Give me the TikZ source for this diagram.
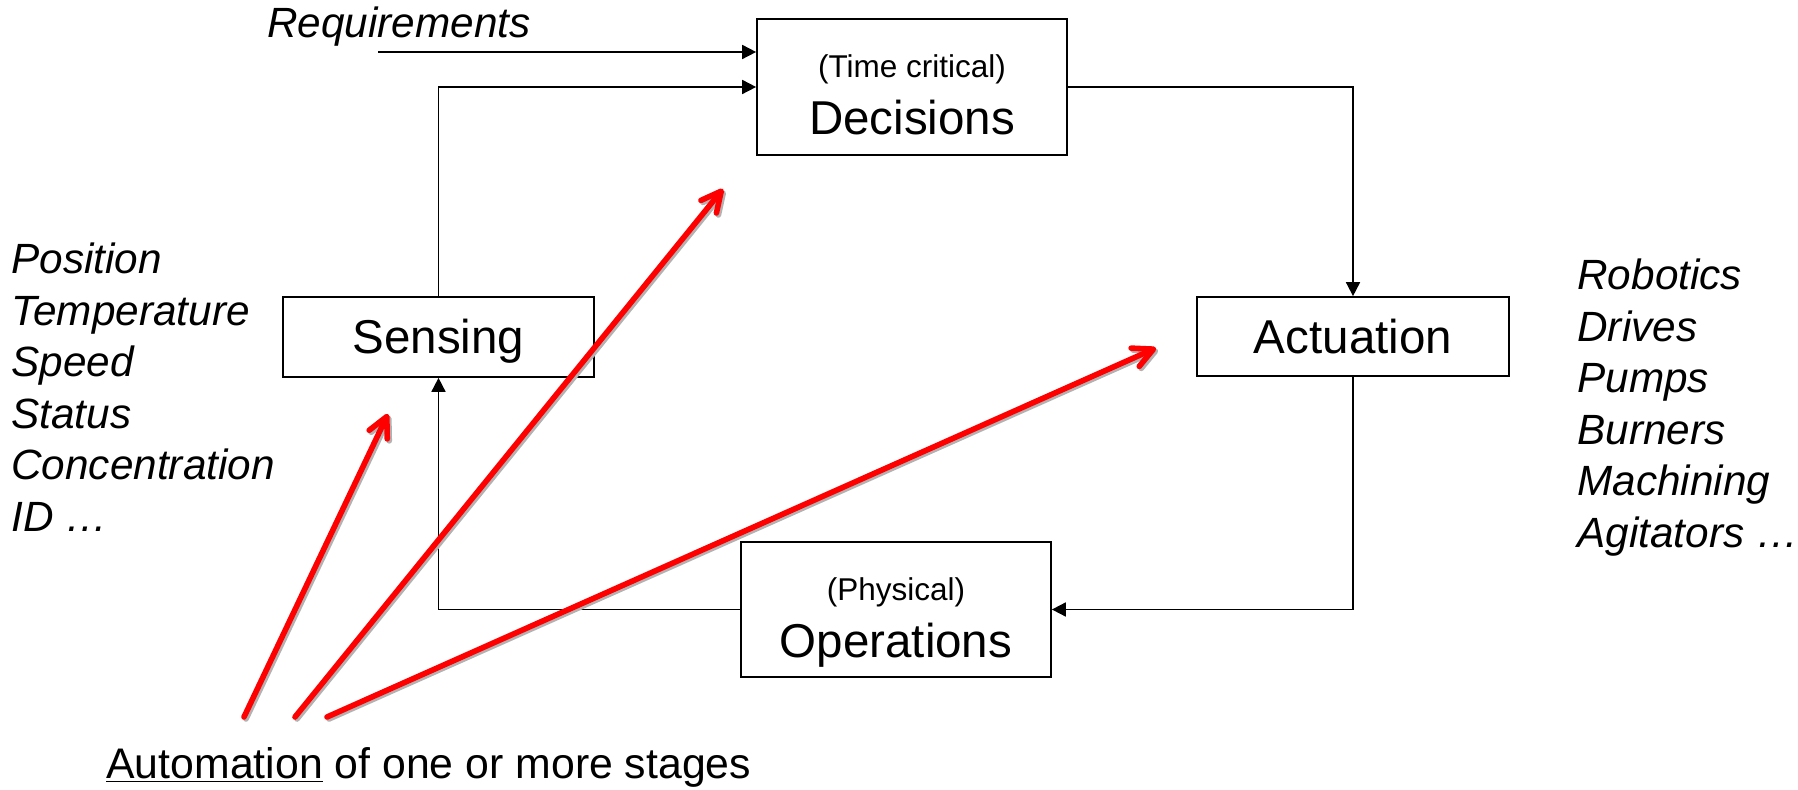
\documentclass[tikz,border=0pt]{standalone}
\usepackage{fontspec}
\setmainfont{Liberation Sans}
\usetikzlibrary{arrows.meta}
\begin{document}
\begin{tikzpicture}[x=0.5pt,y=-0.5pt,
  box/.style={draw, line width=0.85pt, inner sep=0pt},
  lbl/.style={font=\fontsize{23.75}{28}\selectfont, inner sep=0pt},
  sml/.style={font=\fontsize{15.75}{19}\selectfont, inner sep=0pt},
  itl/.style={font=\fontsize{21.15}{25}\selectfont\itshape, inner sep=0pt},
  plain/.style={font=\fontsize{21.4}{25}\selectfont, inner sep=0pt},
  conn/.style={line width=0.85pt, -{Triangle[length=7pt,width=7pt]}},
  autoarrow/.style={draw=red, line width=2.8pt, line cap=round, -{Straight Barb[length=10pt,width=10pt,round]}},
  autoshadow/.style={draw=black!30, line width=2.8pt, line cap=round, -{Straight Barb[length=10pt,width=10pt,round]}, transform canvas={xshift=1pt,yshift=-1pt}}
]
\useasboundingbox (0,0) rectangle (1798,790);

% boxes
\node[box, minimum width=155pt, minimum height=68pt] (dec) at (912,87) {};
\node[sml, anchor=base] (dect) at (912,77.5) {(Time critical)};
\node[lbl, anchor=base] (decl) at (912,134.5) {Decisions};

\node[box, lbl, minimum width=155.5pt, minimum height=40pt, text height=17pt, text depth=0pt] (sen) at (438.5,337) {Sensing};
\node[box, lbl, minimum width=156pt, minimum height=39.5pt, text height=17pt, text depth=0pt] (act) at (1353,336.5) {Actuation};

\node[box, minimum width=155pt, minimum height=67.5pt] (ops) at (896,609.5) {};
\node[sml, anchor=base] (opst) at (896,600) {(Physical)};
\node[lbl, anchor=base] (opsl) at (896,657) {Operations};

% requirements
\node[itl, anchor=base west] (req) at (267,38) {Requirements};
\coordinate (reqs) at (378,52);
\draw[conn] (reqs) -- (reqs -| dec.west);

% loop
\draw[conn] (sen.north) |- (dec.west);
\draw[conn] (dec.east) -| (act.north);
\draw[conn] (act.south) |- (ops.east);
\draw[conn] (ops.west) -| (sen.south);

% lists
\foreach \t [count=\i] in {Position,Temperature,Speed,Status,Concentration,ID …}
  \node[itl, anchor=base west] (l\i) at (11,{274+51.5*(\i-1)}) {\t};
\foreach \t [count=\i] in {Robotics,Drives,Pumps,Burners,Machining,Agitators …}
  \node[itl, anchor=base west] (r\i) at (1577,{290+51.5*(\i-1)}) {\t};

% bottom text
\node[plain, anchor=base west] (auto) at (106,778) {\underline{Automation} of one or more stages};

% red arrows
\coordinate (a1) at (244,717); \coordinate (b1) at (388,414);
\coordinate (a2) at (295,717); \coordinate (b2) at (723,189);
\coordinate (a3) at (327,717); \coordinate (b3) at (1156,348);
\draw[autoshadow] (a1) -- (b1);
\draw[autoshadow] (a2) -- (b2);
\draw[autoshadow] (a3) -- (b3);
\draw[autoarrow] (a1) -- (b1);
\draw[autoarrow] (a2) -- (b2);
\draw[autoarrow] (a3) -- (b3);
\end{tikzpicture}
\end{document}
